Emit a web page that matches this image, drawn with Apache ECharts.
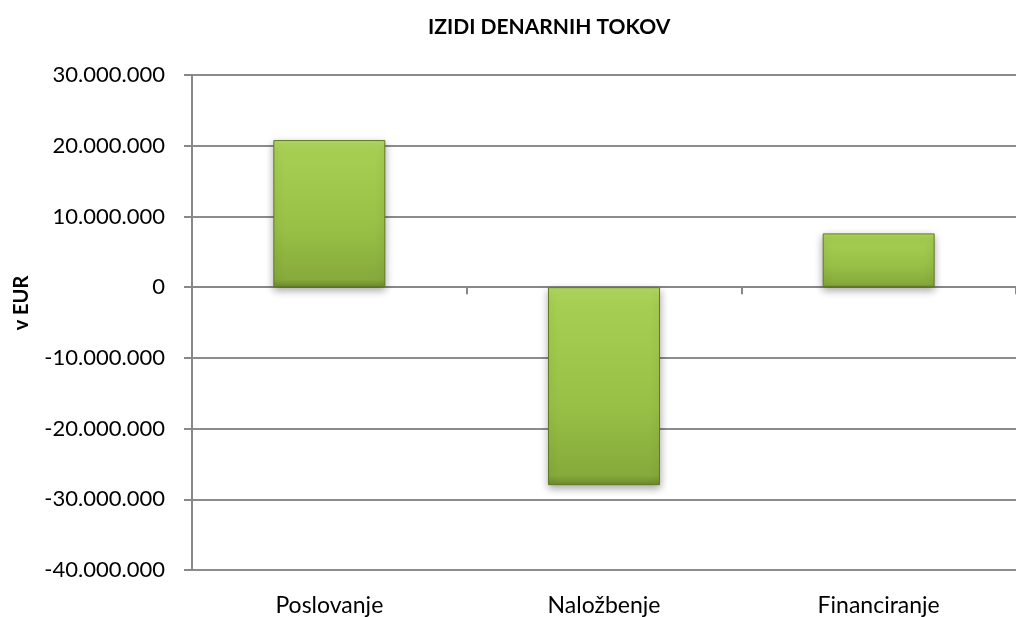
<!DOCTYPE html>
<html>
<head>
<meta charset="utf-8">
<script src="https://cdn.jsdelivr.net/npm/echarts@6/dist/echarts.min.js"></script>
<style>
  html, body { margin: 0; padding: 0; background: #fff; }
  #main { width: 1016px; height: 617px; }
</style>
</head>
<body>
<div id="main"></div>
<script>
"use strict";
var categories = ['Poslovanje', 'Naložbenje', 'Financiranje'];
var values = [20800000, -28000000, 7600000];

function fmt(v) {
    var s = Math.abs(v).toString().replace(/\B(?=(\d{3})+(?!\d))/g, '.');
    return (v < 0 ? '-' : '') + s;
}

var font = 'Lato, "Open Sans", sans-serif';
var myChart = echarts.init(document.getElementById('main'));
var option = {
    animation: false,
    textStyle: { fontFamily: font },
    title: {
        text: 'IZIDI DENARNIH TOKOV',
        left: 423,
        top: 12,
        textStyle: { fontSize: 21, fontWeight: 'bold', color: '#000', fontFamily: font }
    },
    graphic: [{
        type: 'text',
        x: 22,
        y: 303,
        rotation: Math.PI / 2,
        style: {
            text: 'v EUR',
            font: 'bold 20px ' + font,
            fill: '#000',
            align: 'center',
            verticalAlign: 'middle'
        }
    }],
    grid: { left: 192, width: 834, top: 75, height: 498, containLabel: false },
    xAxis: {
        type: 'category',
        data: categories,
        axisLine: { onZero: true, lineStyle: { color: '#888', width: 2 } },
        axisTick: { show: true, length: 7, lineStyle: { color: '#888', width: 2 } },
        axisLabel: { color: '#000', fontSize: 23, margin: 24 }
    },
    yAxis: {
        type: 'value',
        min: -40000000,
        max: 30000000,
        interval: 10000000,
        axisLine: { show: true, lineStyle: { color: '#888', width: 2 } },
        axisTick: { show: true, length: 8, lineStyle: { color: '#888', width: 2 } },
        axisLabel: { color: '#000', fontSize: 22, margin: 27, formatter: fmt },
        splitLine: { show: true, lineStyle: { color: '#8c8c8c', width: 2 } }
    },
    series: [
        {
            type: 'bar',
            data: values,
            barWidth: 112,
            itemStyle: {
                color: new echarts.graphic.LinearGradient(0, 0, 0, 1, [
                    { offset: 0, color: '#b4da66' },
                    { offset: 0.08, color: '#a6cf52' },
                    { offset: 0.6, color: '#98c046' },
                    { offset: 0.95, color: '#86aa3b' },
                    { offset: 1, color: '#6d8c2c' }
                ]),
                borderColor: '#5f7a26',
                borderWidth: 1,
                shadowColor: 'rgba(0,0,0,0.35)',
                shadowBlur: 8,
                shadowOffsetY: 3
            }
        }
    ]
};
myChart.setOption(option);
</script>
</body>
</html>
